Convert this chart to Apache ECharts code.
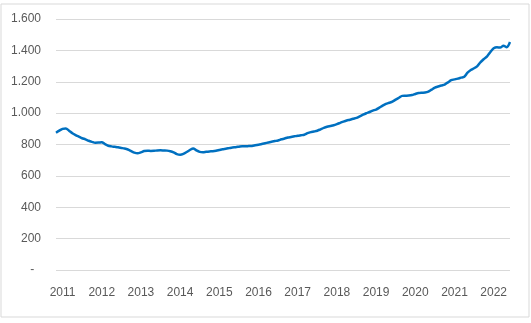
<!DOCTYPE html>
<html>
<head>
<meta charset="utf-8">
<script src="https://cdn.jsdelivr.net/npm/echarts@6/dist/echarts.min.js"></script>
<style>
  html, body { margin: 0; padding: 0; background: #ffffff; }
  #chart { width: 531px; height: 323px; }
</style>
</head>
<body>
<div id="chart"></div>
<script>
// Monthly index values, one array per year (2022 runs to August)
const years = ['2011', '2012', '2013', '2014', '2015', '2016', '2017', '2018', '2019', '2020', '2021', '2022'];
const v2011 = [875, 888, 900, 902, 888, 872, 860, 850, 840, 833, 824, 817];
const v2012 = [811, 812, 815, 802, 792, 788, 785, 782, 778, 774, 768, 758];
const v2013 = [748, 744, 750, 758, 760, 759, 760, 762, 763, 762, 761, 757];
const v2014 = [750, 739, 735, 740, 752, 765, 775, 762, 753, 751, 754, 756];
const v2015 = [757, 760, 765, 770, 773, 777, 781, 783, 786, 789, 789, 790];
const v2016 = [791, 795, 799, 803, 808, 813, 818, 822, 826, 833, 838, 845];
const v2017 = [848, 852, 856, 859, 862, 872, 879, 883, 888, 897, 906, 913];
const v2018 = [918, 923, 930, 938, 946, 953, 958, 964, 970, 980, 990, 999];
const v2019 = [1007, 1016, 1023, 1035, 1048, 1059, 1066, 1073, 1086, 1098, 1110, 1111];
const v2020 = [1112, 1115, 1122, 1128, 1130, 1131, 1137, 1150, 1163, 1170, 1176, 1182];
const v2021 = [1196, 1210, 1215, 1220, 1226, 1232, 1258, 1275, 1286, 1300, 1325, 1345];
const v2022 = [1362, 1390, 1413, 1420, 1418, 1430, 1420, 1453];

const yearly = [v2011, v2012, v2013, v2014, v2015, v2016, v2017, v2018, v2019, v2020, v2021, v2022];

// Build month categories and the flat value series
const months = [];
const values = [];
yearly.forEach((arr, yi) => {
  arr.forEach((v, mi) => {
    months.push(years[yi] + '-' + String(mi + 1).padStart(2, '0'));
    values.push(v);
  });
});

// Thousands separator with a dot, zero shown as a dash
function fmt(v) {
  if (v === 0) return '-  ';
  return String(v).replace(/\B(?=(\d{3})+(?!\d))/g, '.');
}

const chart = echarts.init(document.getElementById('chart'), null, { renderer: 'canvas' });
const font = '"Liberation Sans", Arial, sans-serif';

chart.setOption({
  animation: false,
  backgroundColor: '#ffffff',
  graphic: [{
    type: 'rect',
    shape: { x: 1, y: 4, width: 528, height: 313 },
    style: { fill: 'none', stroke: '#d9d9d9', lineWidth: 1 },
    silent: true,
    z: 0
  }],
  grid: { left: 56, right: 21, top: 19, bottom: 53, containLabel: false },
  xAxis: {
    type: 'category',
    data: months,
    boundaryGap: false,
    axisLine: { show: false },
    axisTick: { show: false },
    splitLine: { show: false },
    axisLabel: {
      interval: (i) => i % 12 === 2,
      formatter: (val) => val.slice(0, 4),
      color: '#595959',
      fontFamily: font,
      fontSize: 12,
      margin: 17
    }
  },
  yAxis: {
    type: 'value',
    min: 0,
    max: 1600,
    interval: 200,
    axisLine: { show: false },
    axisTick: { show: false },
    splitLine: { lineStyle: { color: '#d9d9d9', width: 1 } },
    axisLabel: {
      formatter: fmt,
      color: '#595959',
      fontFamily: font,
      fontSize: 12,
      margin: 15
    }
  },
  series: [{
    type: 'line',
    data: values,
    showSymbol: false,
    smooth: 0.3,
    lineStyle: { color: '#0070C0', width: 2.5 },
    itemStyle: { color: '#0070C0' }
  }]
});
</script>
</body>
</html>
